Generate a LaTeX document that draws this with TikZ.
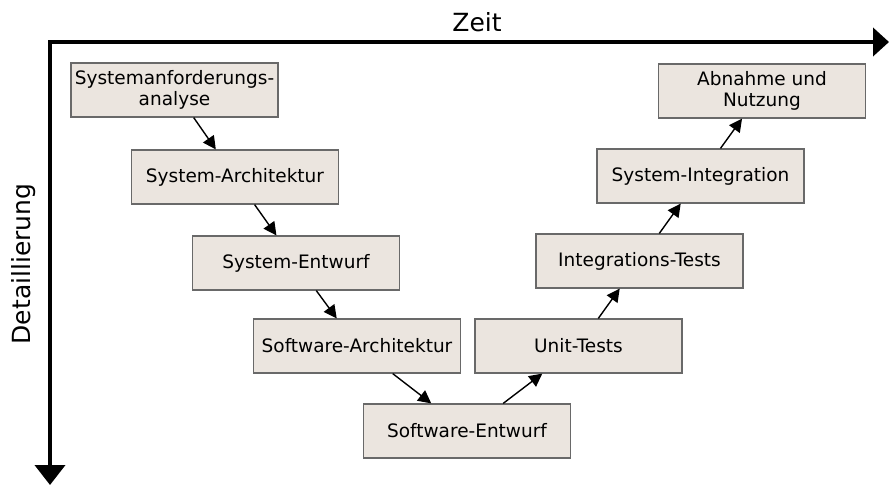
\documentclass[tikz,border=0pt]{standalone}
\usepackage{fontspec}
\setmainfont{DejaVu Sans}
\usepackage{xcolor}
\usetikzlibrary{arrows.meta}
\definecolor{phasefill}{RGB}{235,229,223}
\definecolor{phaseline}{RGB}{105,105,105}

\begin{document}
\begin{tikzpicture}[
  x=1pt, y=-1pt,
  phase/.style={draw=phaseline, fill=phasefill, line width=1.2pt, minimum width=207pt, minimum height=54pt, inner sep=2pt, align=center, font=\fontsize{18.5}{21.5}\selectfont},
  flow/.style={-{Triangle[length=13pt, width=13pt]}, line width=1.4pt},
  axis/.style={{Triangle[length=20pt, width=30pt]}-{Triangle[length=16pt, width=28pt]}, line width=4pt, line join=miter},
  axislabel/.style={font=\fontsize{25}{30}\selectfont}
]
\useasboundingbox (0,0) rectangle (890,486);
\coordinate (origin) at (50,42);
\coordinate (depth) at (50,485);
\coordinate (time) at (889,42);
\draw[axis] (depth) -- (origin) -- (time);
\node[axislabel] (zeit) at (477,22) {Zeit};
\node[axislabel, rotate=90] (detail) at (24,264) {Detaillierung};

\node[phase] (sysreq) at (174.5,90) {Systemanforderungs-\\analyse};
\node[phase] (sysarch) at (235,177) {System-Architektur};
\node[phase] (sysdes) at (296,263) {System-Entwurf};
\node[phase] (swarch) at (357,346) {Software-Architektur};
\node[phase] (swdes) at (467,431) {Software-Entwurf};
\node[phase] (unit) at (578.5,346) {Unit-Tests};
\node[phase] (integ) at (639.5,261) {Integrations-Tests};
\node[phase] (sysint) at (700.5,176) {System-Integration};
\node[phase] (accept) at (762,91) {Abnahme und\\Nutzung};

\draw[flow] (sysreq) -- (sysarch);
\draw[flow] (sysarch) -- (sysdes);
\draw[flow] (sysdes) -- (swarch);
\draw[flow] (swarch) -- (swdes);
\draw[flow] (swdes) -- (unit);
\draw[flow] (unit) -- (integ);
\draw[flow] (integ) -- (sysint);
\draw[flow] (sysint) -- (accept);
\end{tikzpicture}
\end{document}
